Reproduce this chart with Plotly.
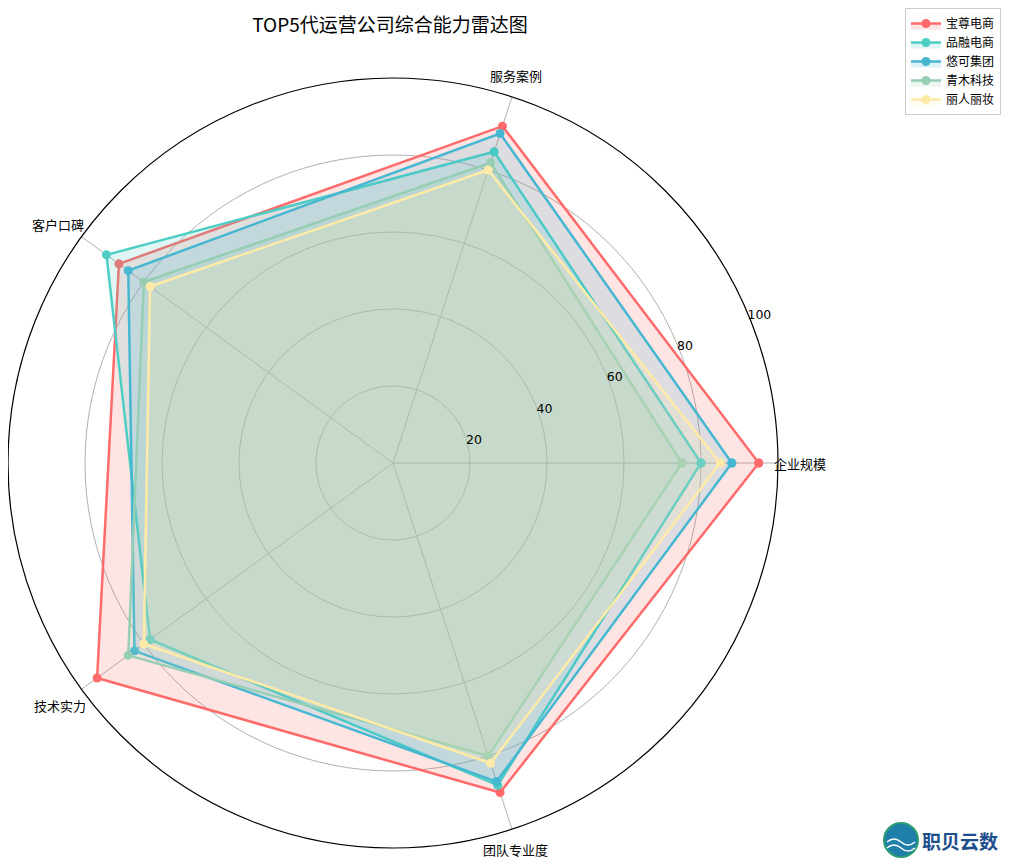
import plotly.graph_objects as go

categories = ["企业规模", "服务案例", "客户口碑", "技术实力", "团队专业度"]
companies = ["宝尊电商", "品融电商", "悠可集团", "青木科技", "丽人丽妆"]
baozun = [95, 92, 88, 95, 90]
pinrong = [80, 85, 92, 78, 88]
youke = [88, 90, 85, 83, 87]
qingmu = [75, 82, 80, 85, 80]
liren = [85, 80, 78, 80, 82]
series = [baozun, pinrong, youke, qingmu, liren]
colors = ["#FF6B6B", "#4ECDC4", "#45B7D1", "#96CEB4", "#FFEAA7"]
fills = ["rgba(255,107,107,0.18)", "rgba(78,205,196,0.18)", "rgba(69,183,209,0.18)",
         "rgba(150,206,180,0.18)", "rgba(255,234,167,0.18)"]
radial_ticks = [20, 40, 60, 80, 100]

FONT = "Noto Sans CJK SC, DejaVu Sans, sans-serif"

fig = go.Figure()
for name, vals, c, fc in zip(companies, series, colors, fills):
    fig.add_trace(go.Scatterpolar(
        r=vals + vals[:1], theta=categories + categories[:1],
        mode="lines+markers", name=name, fill="toself", fillcolor=fc,
        line=dict(color=c, width=2.5), marker=dict(color=c, size=9),
    ))

# page has an 8px body margin; work in figure coords = page coords - 8
OFF = 8
W, H = 997, 851
R = 385
cx, cy = OFF + R, 463  # page coords


def px(x):
    return (x - OFF) / W


def py(y):
    return 1 - (y - OFF) / H


fig.update_layout(
    width=W, height=H, margin=dict(l=0, r=0, t=0, b=0),
    paper_bgcolor="white", plot_bgcolor="white",
    font=dict(family=FONT, size=12, color="black"),
    title=dict(text="TOP5代运营公司综合能力雷达图", x=px(390), xanchor="center",
               y=py(25), yanchor="middle", font=dict(size=19, family=FONT)),
    polar=dict(
        domain=dict(x=[max(0, px(cx - R)), px(cx + R)], y=[py(cy + R), py(cy - R)]),
        bgcolor="white",
        angularaxis=dict(rotation=0, direction="counterclockwise", showline=True,
                         linecolor="black", linewidth=1.2, gridcolor="#b0b0b0", gridwidth=1,
                         ticks="", showticklabels=False),
        radialaxis=dict(range=[0, 100], tickvals=radial_ticks, ticktext=[str(t) for t in radial_ticks],
                        angle=24, tickangle=24, showline=False, ticks="", gridcolor="#b0b0b0",
                        gridwidth=1, tickfont=dict(size=12.5, family="DejaVu Sans")),
    ),
    legend=dict(x=px(905), y=1, xanchor="left", yanchor="top", bgcolor="white",
                bordercolor="#cccccc", borderwidth=1, font=dict(size=12, family=FONT),
                itemwidth=30, tracegroupgap=0),
    showlegend=True,
)

# category labels (placed like the reference)
label_pos = [(800, 463), (516, 75), (58, 224), (60, 705), (516, 849)]
for cat, (lx, ly) in zip(categories, label_pos):
    fig.add_annotation(text=cat, xref="paper", yref="paper", x=px(lx), y=py(ly),
                       xanchor="center", yanchor="middle", showarrow=False,
                       font=dict(size=13, family=FONT, color="black"))

# logo
fig.add_shape(type="circle", xref="paper", yref="paper",
              x0=px(884), x1=px(918), y0=py(857), y1=py(823),
              fillcolor="#1f7fa8", line=dict(color="#2a9d6f", width=2))
for yy in (842, 848):
    path = (f"M {px(887)},{py(yy)} Q {px(894)},{py(yy - 6)} {px(901)},{py(yy)} "
            f"T {px(915)},{py(yy)}")
    fig.add_shape(type="path", xref="paper", yref="paper", path=path,
                  line=dict(color="white", width=1.5))
fig.add_annotation(text="<b>职贝云数</b>", xref="paper", yref="paper", x=px(920), y=py(840),
                   xanchor="left", yanchor="middle", showarrow=False,
                   font=dict(size=19, color="#1d4f8c", family=FONT))

fig.write_html("out.html")
